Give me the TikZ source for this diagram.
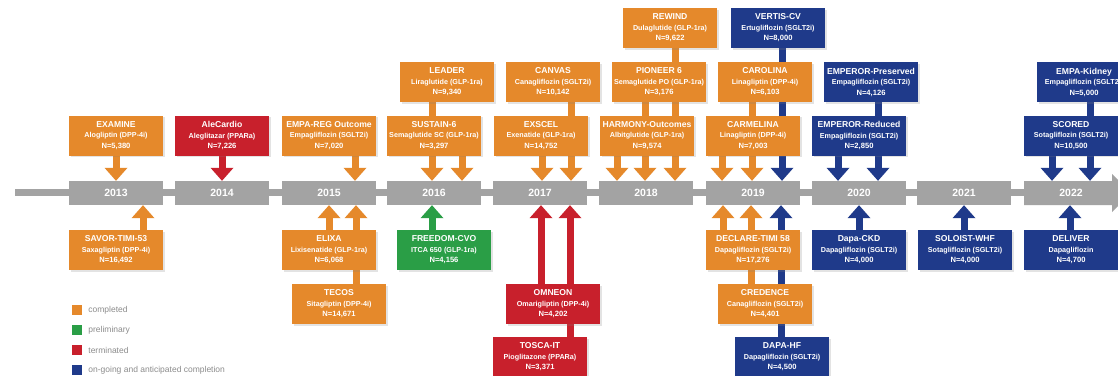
\documentclass[tikz,border=0pt]{standalone}
\usepackage{fontspec}
\setmainfont{Liberation Sans}
\usetikzlibrary{arrows.meta,shadows,backgrounds,calc}
\definecolor{cO}{HTML}{E5892B}
\definecolor{cR}{HTML}{C8202C}
\definecolor{cG}{HTML}{2A9E46}
\definecolor{cB}{HTML}{1F3A8A}
\definecolor{cGray}{HTML}{A3A3A3}
\definecolor{cLeg}{HTML}{8C8C8C}
\tikzset{
  tbox/.style={minimum width=94pt, minimum height=40pt, inner sep=0pt, text=white,
    align=center, font=\fontsize{7.2}{10.5}\selectfont\bfseries,
    drop shadow={opacity=0.22, shadow xshift=1.5pt, shadow yshift=-1.8pt}},
  bO/.style={tbox, fill=cO},
  bR/.style={tbox, fill=cR},
  bG/.style={tbox, fill=cG},
  bB/.style={tbox, fill=cB},
  yr/.style={fill=cGray, minimum width=94pt, minimum height=24pt, inner sep=0pt,
    text=white, font=\fontsize{10.5}{12}\selectfont\bfseries},
  conn/.style={line width=7pt, -{Triangle[width=23pt,length=13pt,line width=0pt]}},
  aO/.style={conn, color=cO},
  aR/.style={conn, color=cR},
  aG/.style={conn, color=cG},
  aB/.style={conn, color=cB},
  lsq/.style={minimum width=10pt, minimum height=10pt, inner sep=0pt},
  ltx/.style={anchor=west, inner sep=0pt, text=cLeg, font=\fontsize{8.5}{10}\selectfont},
}
\newcommand\trial[7]{\node[#2] (#1) at (#3,#4) {{\fontsize{8.6}{10.5}\selectfont #5}\\#6\\{\fontsize{7.6}{10.5}\selectfont #7}};}
\newcommand\tdown[4]{\draw[#1] let \p1=([xshift=#3]#2.south), \p2=(#4.north) in (\p1) -- (\x1,\y2);}
\newcommand\tup[4]{\draw[#1] let \p1=([xshift=#3]#2.north), \p2=(#4.south) in (\p1) -- (\x1,\y2);}
\begin{document}
\begin{tikzpicture}[x=1pt,y=-1pt]
\useasboundingbox (0,0) rectangle (1118,375);
% year boxes
\node[yr] (y13) at (116,193) {2013};
\node[yr] (y14) at (222,193) {2014};
\node[yr] (y15) at (329,193) {2015};
\node[yr] (y16) at (434,193) {2016};
\node[yr] (y17) at (540,193) {2017};
\node[yr] (y18) at (646,193) {2018};
\node[yr] (y19) at (753,193) {2019};
\node[yr] (y20) at (859,193) {2020};
\node[yr] (y21) at (964,193) {2021};
\fill[cGray] (1024,181) -- (1112,181) -- (1112,174) -- (1131,193) -- (1112,212) -- (1112,205) -- (1024,205) -- cycle;
\node[yr, fill=none] (y22) at (1071,193) {2022};
% row C
\trial{rewind}{bO}{670}{28}{REWIND}{Dulaglutide (GLP-1ra)}{N=9,622}
\trial{vertis}{bB}{778}{28}{VERTIS-CV}{Ertugliflozin (SGLT2i)}{N=8,000}
% row B
\trial{leader}{bO}{447}{82}{LEADER}{Liraglutide (GLP-1ra)}{N=9,340}
\trial{canvas}{bO}{553}{82}{CANVAS}{Canagliflozin (SGLT2i)}{N=10,142}
\trial{pioneer}{bO}{659}{82}{PIONEER 6}{Semaglutide PO (GLP-1ra)}{N=3,176}
\trial{carolina}{bO}{765}{82}{CAROLINA}{Linagliptin (DPP-4i)}{N=6,103}
\trial{emppres}{bB}{871}{82}{EMPEROR-Preserved}{Empagliflozin (SGLT2i)}{N=4,126}
\trial{empakid}{bB}{1084}{82}{EMPA-Kidney}{Empagliflozin (SGLT2i)}{N=5,000}
% row A
\trial{examine}{bO}{116}{135.5}{EXAMINE}{Alogliptin (DPP-4i)}{N=5,380}
\trial{alecardio}{bR}{222}{135.5}{AleCardio}{Aleglitazar (PPARa)}{N=7,226}
\trial{empareg}{bO}{329}{135.5}{EMPA-REG Outcome}{Empagliflozin (SGLT2i)}{N=7,020}
\trial{sustain}{bO}{434}{135.5}{SUSTAIN-6}{Semaglutide SC (GLP-1ra)}{N=3,297}
\trial{exscel}{bO}{541}{135.5}{EXSCEL}{Exenatide (GLP-1ra)}{N=14,752}
\trial{harmony}{bO}{647}{135.5}{HARMONY-Outcomes}{Albitglutide (GLP-1ra)}{N=9,574}
\trial{carmelina}{bO}{753}{135.5}{CARMELINA}{Linagliptin (DPP-4i)}{N=7,003}
\trial{empred}{bB}{859}{135.5}{EMPEROR-Reduced}{Empagliflozin (SGLT2i)}{N=2,850}
\trial{scored}{bB}{1071}{135.5}{SCORED}{Sotagliflozin (SGLT2i)}{N=10,500}
% row D
\trial{savor}{bO}{116}{250}{SAVOR-TIMI-53}{Saxagliptin (DPP-4i)}{N=16,492}
\trial{elixa}{bO}{329}{250}{ELIXA}{Lixisenatide (GLP-1ra)}{N=6,068}
\trial{freedom}{bG}{444}{250}{FREEDOM-CVO}{ITCA 650 (GLP-1ra)}{N=4,156}
\trial{declare}{bO}{753}{250}{DECLARE-TIMI 58}{Dapagliflozin (SGLT2i)}{N=17,276}
\trial{dapackd}{bB}{859}{250}{Dapa-CKD}{Dapagliflozin (SGLT2i)}{N=4,000}
\trial{soloist}{bB}{965}{250}{SOLOIST-WHF}{Sotagliflozin (SGLT2i)}{N=4,000}
\trial{deliver}{bB}{1071}{250}{DELIVER}{Dapagliflozin}{N=4,700}
% row E
\trial{tecos}{bO}{339}{304}{TECOS}{Sitagliptin (DPP-4i)}{N=14,671}
\trial{omneon}{bR}{553}{304}{OMNEON}{Omarigliptin (DPP-4i)}{N=4,202}
\trial{credence}{bO}{765}{304}{CREDENCE}{Canagliflozin (SGLT2i)}{N=4,401}
% row F
\trial{tosca}{bR}{540}{357}{TOSCA-IT}{Pioglitazone (PPARa)}{N=3,371}
\trial{dapahf}{bB}{782}{357}{DAPA-HF}{Dapagliflozin (SGLT2i)}{N=4,500}
% legend
\node[lsq, fill=cO] (lg1) at (77,310) {};
\node[lsq, fill=cG] (lg2) at (77,330) {};
\node[lsq, fill=cR] (lg3) at (77,350) {};
\node[lsq, fill=cB] (lg4) at (77,370) {};
\node[ltx] (lt1) at ([xshift=6pt]lg1.east) {completed};
\node[ltx] (lt2) at ([xshift=6pt]lg2.east) {preliminary};
\node[ltx] (lt3) at ([xshift=6pt]lg3.east) {terminated};
\node[ltx] (lt4) at ([xshift=6pt]lg4.east) {on-going and anticipated completion};
\begin{scope}[on background layer]
\fill[white] (0,0) rectangle (1118,375);
\coordinate (tls) at (15,192);
\draw[line width=7pt, cGray] (tls) -- (tls -| y22.west);
\tdown{aO}{examine}{0pt}{y13}
\tdown{aR}{alecardio}{0pt}{y14}
\tdown{aO}{empareg}{26pt}{y15}
\tdown{aO}{sustain}{28pt}{y16}
\tdown{aO}{leader}{-15pt}{y16}
\tdown{aO}{exscel}{1pt}{y17}
\tdown{aO}{canvas}{18pt}{y17}
\tdown{aO}{harmony}{-30pt}{y18}
\tdown{aO}{pioneer}{-14pt}{y18}
\tdown{aO}{rewind}{5pt}{y18}
\tdown{aO}{carmelina}{-31pt}{y19}
\tdown{aO}{carolina}{-13pt}{y19}
\tdown{aB}{vertis}{4pt}{y19}
\tdown{aB}{empred}{-21pt}{y20}
\tdown{aB}{emppres}{7pt}{y20}
\tdown{aB}{scored}{-19pt}{y22}
\tdown{aB}{empakid}{6pt}{y22}
\tup{aO}{savor}{27pt}{y13}
\tup{aO}{elixa}{0pt}{y15}
\tup{aO}{tecos}{17pt}{y15}
\tup{aG}{freedom}{-12pt}{y16}
\tup{aR}{omneon}{-12pt}{y17}
\tup{aR}{tosca}{30pt}{y17}
\tup{aO}{declare}{-30pt}{y19}
\tup{aO}{credence}{-14pt}{y19}
\tup{aB}{dapahf}{-1pt}{y19}
\tup{aB}{dapackd}{0pt}{y20}
\tup{aB}{soloist}{-1pt}{y21}
\tup{aB}{deliver}{-1pt}{y22}
\end{scope}
\end{tikzpicture}
\end{document}
